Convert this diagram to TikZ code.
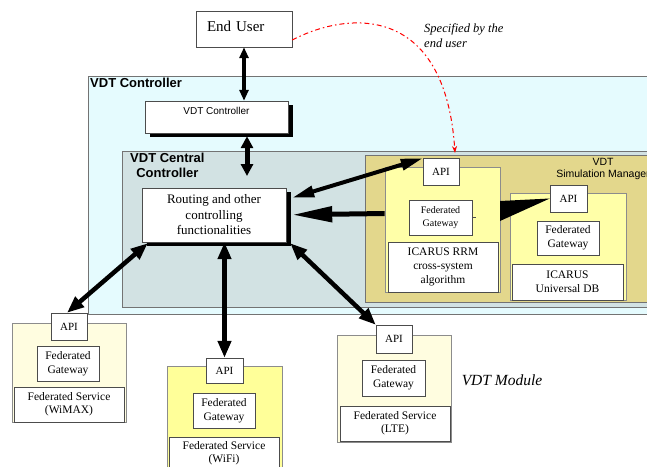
\documentclass[tikz,border=0pt]{standalone}
\usepackage{fontspec}
\setmainfont{Liberation Serif}
\setsansfont{Liberation Sans}
\usetikzlibrary{arrows.meta,shadows}

\definecolor{ctrlcyan}{RGB}{229,251,254}
\definecolor{centralgray}{RGB}{210,226,227}
\definecolor{simkhaki}{RGB}{227,215,140}
\definecolor{modyellow}{RGB}{255,255,168}
\definecolor{wifiyellow}{RGB}{255,255,153}
\definecolor{paleyellow}{RGB}{255,253,224}

\tikzset{
  region/.style={draw=black!55, line width=0.8pt},
  module/.style={draw=black!45, line width=0.8pt, inner sep=0pt},
  box/.style={draw=black!70, fill=white, inner sep=1pt, align=center},
  api/.style={box, minimum width=36pt, minimum height=27pt, font=\fontsize{11}{13}\selectfont},
  gate/.style={box, minimum width=62pt, minimum height=35pt, font=\fontsize{11.5}{14}\selectfont},
  service/.style={box, minimum width=110pt, minimum height=35pt, font=\fontsize{11.5}{13}\selectfont},
  shadowed/.style={drop shadow={shadow xshift=5pt, shadow yshift=-4pt, fill=black, opacity=1}},
  biarrow/.style={line width=4.5pt, {Triangle[length=17pt,width=13pt]}-{Triangle[length=17pt,width=13pt]}},
  longarrow/.style={line width=4pt, {Triangle[length=22pt,width=11pt]}-{Triangle[length=22pt,width=11pt]}},
}

\begin{document}
\begin{tikzpicture}[x=1pt,y=-1pt]
  \useasboundingbox (0,0) rectangle (647,466);

  % regions
  \filldraw[region, fill=ctrlcyan] (88,76) rectangle (670,314);
  \node[anchor=north west, inner sep=1pt, font=\sffamily\bfseries\fontsize{13}{15}\selectfont] (ctrllabel) at (89,77) {VDT Controller};
  \filldraw[region, fill=centralgray] (122,151) rectangle (670,307);
  \node[anchor=north west, inner sep=1pt, align=center, font=\sffamily\bfseries\fontsize{13}{15}\selectfont] (centrallabel) at (129,152) {VDT Central\\Controller};
  \filldraw[region, fill=simkhaki] (365,155) rectangle (670,302);
  \node[align=center, font=\sffamily\fontsize{10.5}{12}\selectfont] (simlabel) at (603,169) {VDT\\Simulation Manager};

  % top
  \node[box, minimum width=96pt, minimum height=36pt, text width=74pt, align=left, text depth=5pt, font=\fontsize{15}{17}\selectfont] (eu) at (244,29) {End User};
  \node[anchor=north west, inner sep=0pt, align=left, font=\itshape\fontsize{12.5}{15}\selectfont] (spectext) at (424,23) {Specified by the\\end user};
  \node[box, shadowed, minimum width=143pt, minimum height=32pt] (vc) at (216.5,117) {};
  \node[anchor=north, inner sep=0pt, font=\sffamily\fontsize{10}{12}\selectfont] (vctext) at ([yshift=-6pt]vc.north) {VDT Controller};
  \node[box, shadowed, minimum width=144pt, minimum height=54pt, font=\fontsize{13}{15.5}\selectfont] (rt) at (214,215) {Routing and other\\controlling\\functionalities};

  % simulation manager modules
  \node[module, fill=modyellow, minimum width=115pt, minimum height=125pt] (rrmmod) at (442.5,229.5) {};
  \node[api] (api1) at (441,172) {API};
  \node[gate, minimum width=63pt, font=\fontsize{10}{13}\selectfont] (fg1) at (440.5,217.5) {Federated\\Gateway};
  \draw[black!70] (fg1.east) -- ++(4,0);
  \node[box, minimum width=110pt, minimum height=50pt, font=\fontsize{11.5}{14}\selectfont] (rrm) at (443,267) {ICARUS RRM\\cross-system\\algorithm};

  \node[module, fill=modyellow, minimum width=116pt, minimum height=107pt] (dbmod) at (568,246.5) {};
  \node[api, minimum width=37pt] (api2) at (568.5,198.5) {API};
  \node[gate, minimum height=34pt] (fg2) at (568,238) {Federated\\Gateway};
  \node[box, minimum width=111pt, minimum height=36pt, font=\fontsize{11.5}{14}\selectfont] (db) at (567.5,282) {ICARUS\\Universal DB};

  % external modules
  \node[module, fill=paleyellow, minimum width=114pt, minimum height=99pt] (wmmod) at (69,372.5) {};
  \node[api] (apiwm) at (69,326.5) {API};
  \node[gate] (fgwm) at (68,363.5) {Federated\\Gateway};
  \node[service] (fswm) at (69,404.5) {Federated Service\\(WiMAX)};

  \node[module, fill=wifiyellow, minimum width=115pt, minimum height=114pt] (wfmod) at (224.5,423) {};
  \node[api, minimum width=37pt, minimum height=25pt] (apiwf) at (224.5,370.5) {API};
  \node[gate] (fgwf) at (224,410.5) {Federated\\Gateway};
  \node[service, minimum height=33pt] (fswf) at (224,453.5) {Federated Service\\(WiFi)};

  \node[module, fill=paleyellow, minimum width=114pt, minimum height=107pt] (ltemod) at (394,388.5) {};
  \node[api, minimum height=28pt] (apilte) at (394,339) {API};
  \node[gate, minimum width=63pt, minimum height=36pt] (fglte) at (393.5,378) {Federated\\Gateway};
  \node[service] (fslte) at (395,423.5) {Federated Service\\(LTE)};
  \node[font=\itshape\fontsize{15.5}{18}\selectfont] (modlabel) at (502,380) {VDT Module};

  % connectors
  \draw[line width=3.5pt, {Triangle[length=11pt,width=9pt]}-{Triangle[length=11pt,width=9pt]}] (eu.south) -- (eu.south |- vc.north);
  \coordinate (rtin) at (247,176);
  \draw[line width=5pt, {Triangle[length=12pt,width=12pt]}-{Triangle[length=12pt,width=12pt]}] ([yshift=-3pt]vc.south -| rtin) -- (rtin);
  \draw[longarrow] ([shift={(6,10)}]rt.north east) -- (api1.north west);
  \draw[line width=5pt, -{Triangle[length=40pt,width=15pt]}] ([yshift=16pt]rrmmod.west) -- ([shift={(6,27)}]rt.north east);
  \coordinate (w1) at (500,201);
  \coordinate (w2) at (500,221);
  \fill (w1) -- (api2.west) -- (w2) -- cycle;
  \draw[biarrow] ([shift={(6,1)}]rt.south west) -- ([xshift=-2pt]apiwm.north);
  \draw[biarrow] (apiwf.north |- rt.south) -- (apiwf.north);
  \draw[biarrow] ([shift={(4,1)}]rt.south east) -- (apilte.north west);

  \coordinate (eustart) at ([yshift=-11pt]eu.east);
  \coordinate (spec) at (455,153);
  \draw[red, line width=1pt, dash pattern=on 5pt off 3pt on 1.5pt off 3pt, -{Stealth[length=7pt,width=5pt]}] (eustart) .. controls (350,10) and (445,5) .. (spec);
\end{tikzpicture}
\end{document}
